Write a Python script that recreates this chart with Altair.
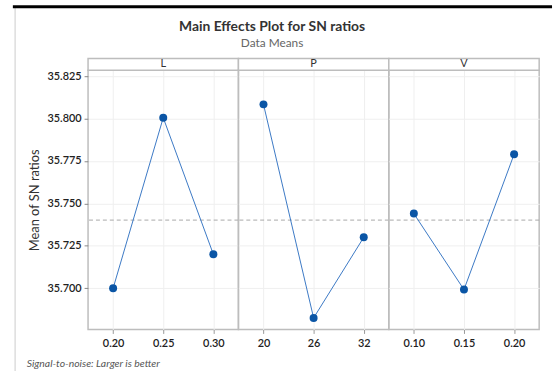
import altair as alt
import pandas as pd

# ---- data ----
factors = ["L", "L", "L", "P", "P", "P", "V", "V", "V"]
levels = ["0.20", "0.25", "0.30", "20", "26", "32", "0.10", "0.15", "0.20"]
sn_means = [35.700, 35.8005, 35.720, 35.8084, 35.6825, 35.730, 35.744, 35.6992, 35.779]
factor_names = ["L", "P", "V"]
y_ticks = [35.700, 35.725, 35.750, 35.775, 35.800, 35.825]
title_text = "Main Effects Plot for SN ratios"
subtitle_text = "Data Means"
note_text = "Signal-to-noise: Larger is better"

df = pd.DataFrame({"factor": factors, "level": levels, "sn": sn_means})
grand_mean = sum(sn_means[0:3]) / 3  # overall mean of SN ratios
mean_df = pd.DataFrame({"mean": [grand_mean]})

FONT = "Lato"
PW, PH = 152, 262
YDOM = [35.6757, 35.8285]
LINE_C = "#3b78c4"
PT_C = "#0a55a5"
GRID_C = "#efefef"
FRAME_C = "#bdbdbd"


def panel(f, first):
    sub = df[df["factor"] == f]
    order = list(sub["level"])
    yaxis = alt.Axis(
        values=y_ticks, format=".3f", title="Mean of SN ratios" if first else None,
        labels=first, ticks=first, domain=False, grid=True, gridColor=GRID_C,
        tickColor="#888", tickSize=4, labelFont=FONT, labelFontSize=11,
        labelColor="#222", labelFontWeight=600, labelPadding=3,
        titleFont=FONT, titleFontSize=13, titleFontWeight="normal",
        titleColor="#333", titlePadding=6,
    )
    xenc = alt.X(
        "level:N", sort=order,
        scale=alt.Scale(type="point", padding=0.5),
        axis=alt.Axis(title=None, labelAngle=0, grid=True, gridColor=GRID_C,
                      domain=False, tickColor="#999", tickSize=4,
                      labelFont=FONT, labelFontSize=11, labelColor="#222",
                      labelFontWeight=600, labelPadding=4),
    )
    yenc = alt.Y("sn:Q", scale=alt.Scale(domain=YDOM, nice=False, zero=False), axis=yaxis)
    base = alt.Chart(sub)
    line = base.mark_line(color=LINE_C, strokeWidth=1).encode(x=xenc, y=yenc)
    pts = base.mark_point(filled=True, color=PT_C, size=65, opacity=1).encode(x=xenc, y=yenc)
    meanrule = alt.Chart(mean_df).mark_rule(color="#a8a8a8", strokeDash=[4, 3], strokeWidth=1).encode(
        y=alt.Y("mean:Q", scale=alt.Scale(domain=YDOM, nice=False, zero=False)))
    hdr = pd.DataFrame({"factor": [f]})
    hrect = alt.Chart(hdr).mark_rect(fill="white", stroke=FRAME_C, strokeWidth=1.5).encode(
        x=alt.value(0), x2=alt.value(PW), y=alt.value(-12), y2=alt.value(0))
    htext = alt.Chart(hdr).mark_text(font=FONT, fontSize=11, color="#333", baseline="middle").encode(
        text="factor:N", x=alt.value(PW / 2), y=alt.value(-6))
    layers = [meanrule, line, pts, hrect, htext]
    if first:
        txt = pd.DataFrame({"note": [note_text], "title": [title_text], "sub": [subtitle_text]})
        ntext = alt.Chart(txt).mark_text(font=FONT, fontSize=10.5, fontStyle="italic", color="#555",
                                         align="left", baseline="middle").encode(
            text="note:N", x=alt.value(-62), y=alt.value(297))
        ttext = alt.Chart(txt).mark_text(font=FONT, fontSize=14, fontWeight="bold", color="#333",
                                         align="center", baseline="middle").encode(
            text="title:N", x=alt.value(186), y=alt.value(-44))
        stext = alt.Chart(txt).mark_text(font=FONT, fontSize=12, color="#666",
                                         align="center", baseline="middle").encode(
            text="sub:N", x=alt.value(186), y=alt.value(-28))
        edge = alt.Chart(txt).mark_rule(color="#dddddd", strokeWidth=1.5).encode(
            x=alt.value(-73.7), y=alt.value(-63), y2=alt.value(304))
        bar = alt.Chart(txt).mark_rule(color="#000000", strokeWidth=3).encode(
            x=alt.value(-76), x2=alt.value(469), y=alt.value(-64.3))
        layers += [ntext, ttext, stext, edge, bar]
    return alt.layer(*layers).properties(width=PW, height=PH)


chart = alt.hconcat(
    *[panel(f, i == 0) for i, f in enumerate(factor_names)], spacing=0, bounds="flush"
).properties(
    padding={"left": 10, "top": 2, "right": 0, "bottom": 0},
).configure_view(stroke=FRAME_C, strokeWidth=1.5)

chart.save("out.html", embed_options={"renderer": "svg", "actions": False})
